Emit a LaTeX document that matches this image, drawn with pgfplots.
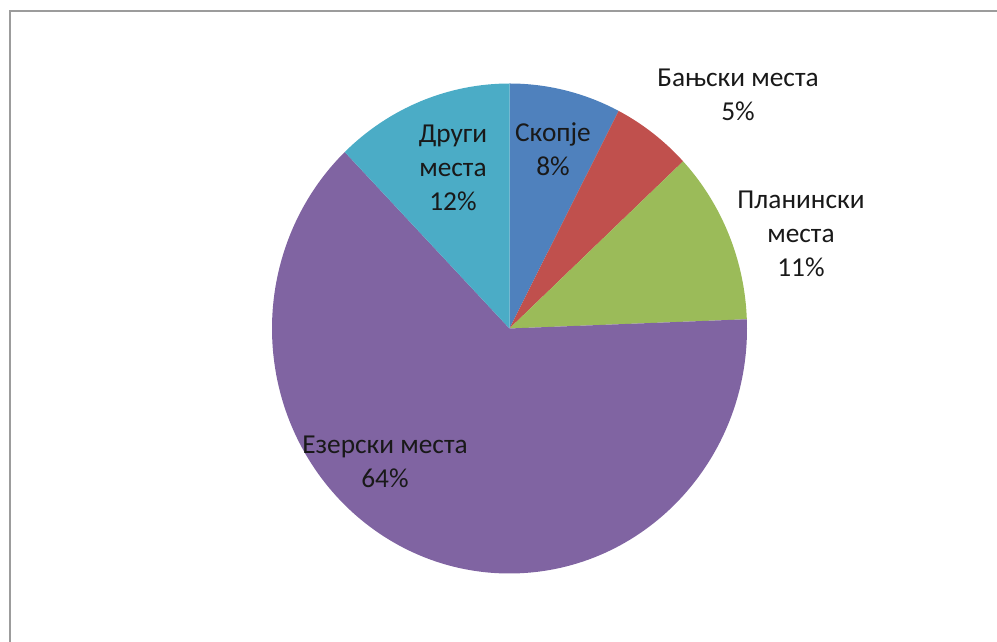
\documentclass[border=0pt]{standalone}
\usepackage{pgfplots}
\usepackage{pgfplotstable}
\pgfplotsset{compat=1.18}
\usepackage{fontspec}
\setmainfont{Carlito}
\definecolor{cA}{HTML}{4F81BD}
\definecolor{cB}{HTML}{C0504D}
\definecolor{cC}{HTML}{9BBB59}
\definecolor{cD}{HTML}{8064A2}
\definecolor{cE}{HTML}{4BACC6}
\definecolor{frame}{HTML}{9C9C9C}
\pgfplotstableread{
value color
7.6   cA
5.45  cB
11.35 cC
63.4  cD
12.2  cE
}\piedata
\begin{document}
\begin{tikzpicture}
\begin{axis}[name=ax, x=0.75pt, y=0.75pt, xmin=0, xmax=997, ymin=0, ymax=642,
  hide axis, clip=false]
\pgfplotstablegetrowsof{\piedata}
\pgfmathtruncatemacro\N{\pgfplotsretval-1}
\def\cum{0}
\pgfplotsforeachungrouped \i in {0,...,\N}{
  \pgfplotstablegetelem{\i}{value}\of\piedata
  \pgfmathsetmacro\a{90-3.6*\cum}
  \pgfmathsetmacro\cum{\cum+\pgfplotsretval}
  \pgfmathsetmacro\b{90-3.6*\cum}
  \pgfplotstablegetelem{\i}{color}\of\piedata
  \edef\temp{\noexpand\fill[\pgfplotsretval] (axis cs:509.5,313.5) -- ++(\a:178.125pt and 183.75pt) arc[start angle=\a, end angle=\b, x radius=178.125pt, y radius=183.75pt] -- cycle;}
  \temp
}
\draw[frame, line width=1.5pt] (axis cs:9.5,0) -- (axis cs:9.5,630.5) -- (axis cs:997,630.5);
\tikzset{lbl/.style={align=center, font=\fontsize{20.5}{25.5}\selectfont, inner sep=0pt, text=black!90}}
\node[lbl] at (axis cs:553,493) {Скопје\\8\%};
\node[lbl] at (axis cs:453,474) {Други\\места\\12\%};
\node[lbl] at (axis cs:738,547) {Бањски места\\5\%};
\node[lbl] at (axis cs:801,408) {Планински\\места\\11\%};
\node[lbl] at (axis cs:385,180) {Езерски места\\64\%};
\end{axis}
\pgfresetboundingbox
\path[use as bounding box] (ax.south west) rectangle (ax.north east);
\end{tikzpicture}
\end{document}
